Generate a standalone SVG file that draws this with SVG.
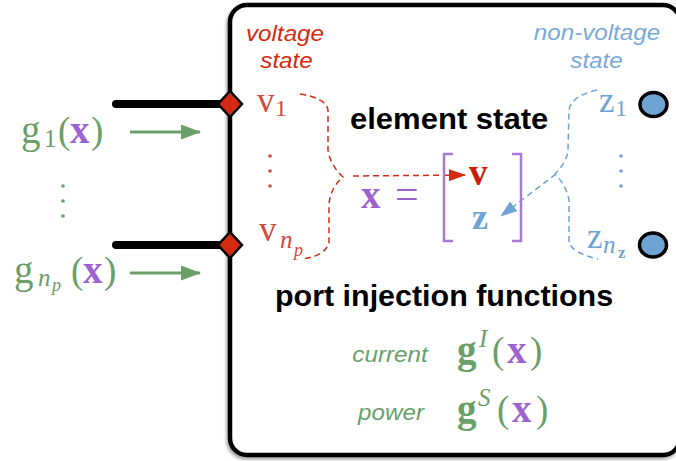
<svg xmlns="http://www.w3.org/2000/svg" width="676" height="461" viewBox="0 0 676 461">
<style>
.math{font-family:"Liberation Serif","DejaVu Serif",serif;}
.grn{fill:#6a9f6a;}
.pur{fill:#9d62cf;font-weight:bold;}
.red{fill:#d04a40;}
.blu{fill:#6fa3d4;}
.it{font-style:italic;}
.lbl{font-family:"Liberation Sans",Arial,sans-serif;font-style:italic;font-size:22px;text-anchor:middle;}
.head{font-family:"Liberation Sans",Arial,sans-serif;font-weight:bold;font-size:29px;fill:#000;}
.port{stroke:#000;stroke-width:8;stroke-linecap:round;}
.diam{fill:#d42a12;stroke:#000;stroke-width:2.5;}
.circ{fill:#6fa3d4;stroke:#000;stroke-width:3.5;}
.garr{stroke:#6a9f6a;stroke-width:3;fill:none;}
.rdash{stroke:#d42a12;stroke-width:1.5;fill:none;stroke-dasharray:6,4;}
.bdash{stroke:#6fa3d4;stroke-width:1.5;fill:none;stroke-dasharray:6,4;}
</style>
<defs>
<filter id="sh" x="-5%" y="-5%" width="110%" height="110%">
<feDropShadow dx="-1.5" dy="2.5" stdDeviation="1.5" flood-color="#000" flood-opacity="0.35"/>
</filter>
<marker id="ga" markerWidth="20" markerHeight="15" refX="19" refY="7.5" orient="auto" markerUnits="userSpaceOnUse" viewBox="0 0 20 15">
<path d="M0,0 L20,7.5 L0,15 z" fill="#6a9f6a"/>
</marker>
<marker id="ra" markerWidth="17" markerHeight="12" refX="16" refY="6" orient="auto" markerUnits="userSpaceOnUse" viewBox="0 0 17 12">
<path d="M0,0 L17,6 L0,12 z" fill="#d42a12"/>
</marker>
<marker id="ba" markerWidth="17" markerHeight="12" refX="16" refY="6" orient="auto" markerUnits="userSpaceOnUse" viewBox="0 0 17 12">
<path d="M0,0 L17,6 L0,12 z" fill="#6fa3d4"/>
</marker>
</defs>
<rect width="676" height="461" fill="#fff"/>

<g id="element">
<rect x="230" y="5" width="450" height="450" rx="17" fill="#fff" stroke="#000" stroke-width="4.5" filter="url(#sh)"/>
</g>

<g id="connectors">
<line class="port" x1="116" y1="104" x2="230" y2="104"/>
<line class="port" x1="116" y1="245" x2="230" y2="245"/>
<line class="garr" x1="130" y1="132" x2="200" y2="132" marker-end="url(#ga)"/>
<line class="garr" x1="130" y1="273" x2="200" y2="273" marker-end="url(#ga)"/>
<path class="rdash" d="M300,94 Q326,98 328,110 L328,150 Q330,165 343,177 Q330,188 329,205 L329,242 Q326,256 302,259"/>
<path class="bdash" d="M597,90 Q571,96 569,110 L568,150 Q567,162 555,174 Q566,185 569,200 L569,242 Q572,253 598,259"/>
<line class="rdash" x1="353" y1="176" x2="465" y2="175" marker-end="url(#ra)"/>
<line class="bdash" x1="556" y1="174" x2="501" y2="216" marker-end="url(#ba)"/>
</g>

<g id="port1">
<polygon class="diam" points="230,91 242,104 230,117 218,104"/>
<text class="math grn" font-size="39"><tspan x="21" y="143">g</tspan><tspan x="44" y="147" font-size="25">1</tspan><tspan x="58" y="143" font-size="37">(</tspan><tspan class="pur" x="70" y="143">x</tspan><tspan x="91" y="143" font-size="37">)</tspan></text>
</g>
<g id="portnp">
<polygon class="diam" points="230,232 242,245 230,258 218,245"/>
<text class="math grn" font-size="39"><tspan x="14" y="283">g</tspan><tspan class="it" x="38" y="286" font-size="25">n</tspan><tspan class="it" x="52" y="291" font-size="18">p</tspan><tspan x="71" y="283" font-size="37">(</tspan><tspan class="pur" x="83" y="283">x</tspan><tspan x="104" y="283" font-size="37">)</tspan></text>
</g>
<g id="gdots" class="grn">
<circle cx="63" cy="186" r="1.8"/><circle cx="63" cy="201" r="1.8"/><circle cx="63" cy="216" r="1.8"/>
</g>

<g id="voltage">
<text class="lbl" transform="translate(285,41) scale(1.1,1)" fill="#d42a12">voltage</text>
<text class="lbl" transform="translate(286.5,68) scale(1.1,1)" fill="#d42a12">state</text>
<text class="math red" font-size="35"><tspan x="257" y="112">v</tspan><tspan x="275" y="116" font-size="24">1</tspan></text>
<circle class="red" cx="270" cy="156" r="1.8"/><circle class="red" cx="270" cy="171" r="1.8"/><circle class="red" cx="270" cy="186" r="1.8"/>
<text class="math red" font-size="35"><tspan x="259" y="241">v</tspan><tspan class="it" x="280" y="248" font-size="25">n</tspan><tspan class="it" x="294" y="256" font-size="18">p</tspan></text>
</g>

<g id="nonvoltage">
<text class="lbl" transform="translate(597,40) scale(1.1,1)" fill="#7aaad8">non-voltage</text>
<text class="lbl" transform="translate(596.5,68) scale(1.1,1)" fill="#7aaad8">state</text>
<text class="math blu" font-size="35"><tspan x="599" y="112">z</tspan><tspan x="615" y="116" font-size="24">1</tspan></text>
<circle class="blu" cx="621" cy="156" r="1.8"/><circle class="blu" cx="621" cy="171" r="1.8"/><circle class="blu" cx="621" cy="186" r="1.8"/>
<text class="math blu" font-size="35"><tspan x="587" y="248">z</tspan><tspan class="it" x="603" y="253" font-size="25">n</tspan><tspan x="618" y="258" font-size="17" font-weight="bold">z</tspan></text>
<ellipse class="circ" cx="653.5" cy="104.5" rx="13.5" ry="12"/>
<ellipse class="circ" cx="653" cy="245" rx="13.5" ry="12"/>
</g>

<g id="state">
<text class="head" transform="translate(350,129) scale(1.07,1)">element state</text>
<text class="math" font-size="39"><tspan class="pur" x="361" y="208">x</tspan><tspan x="395" y="208" fill="#9d62cf" font-size="42">=</tspan></text>
<path d="M453,154 L444,154 L444,241 L453,241" stroke="#a77ad8" stroke-width="2.5" fill="none"/>
<path d="M512,154 L521,154 L521,241 L512,241" stroke="#a77ad8" stroke-width="2.5" fill="none"/>
<text class="math" x="469" y="185" font-size="37" font-weight="bold" fill="#cc1a0a">v</text>
<text class="math" x="472" y="229" font-size="36" font-weight="bold" fill="#6fa3d4">z</text>
</g>

<g id="injection">
<text class="head" transform="translate(275,306) scale(1.05,1)">port injection functions</text>
<text class="lbl" transform="translate(390,362) scale(1.1,1)" fill="#6a9f6a">current</text>
<text class="math grn" font-size="39"><tspan x="457" y="363" font-weight="bold">g</tspan><tspan class="it" x="479" y="347" font-size="25">I</tspan><tspan x="492" y="363" font-size="37">(</tspan><tspan class="pur" x="507" y="363">x</tspan><tspan x="530" y="363" font-size="37">)</tspan></text>
<text class="lbl" transform="translate(391,420) scale(1.1,1)" fill="#6a9f6a">power</text>
<text class="math grn" font-size="39"><tspan x="457" y="422" font-weight="bold">g</tspan><tspan class="it" x="478" y="406" font-size="25">S</tspan><tspan x="497" y="422" font-size="37">(</tspan><tspan class="pur" x="512" y="422">x</tspan><tspan x="536" y="422" font-size="37">)</tspan></text>
</g>
</svg>
